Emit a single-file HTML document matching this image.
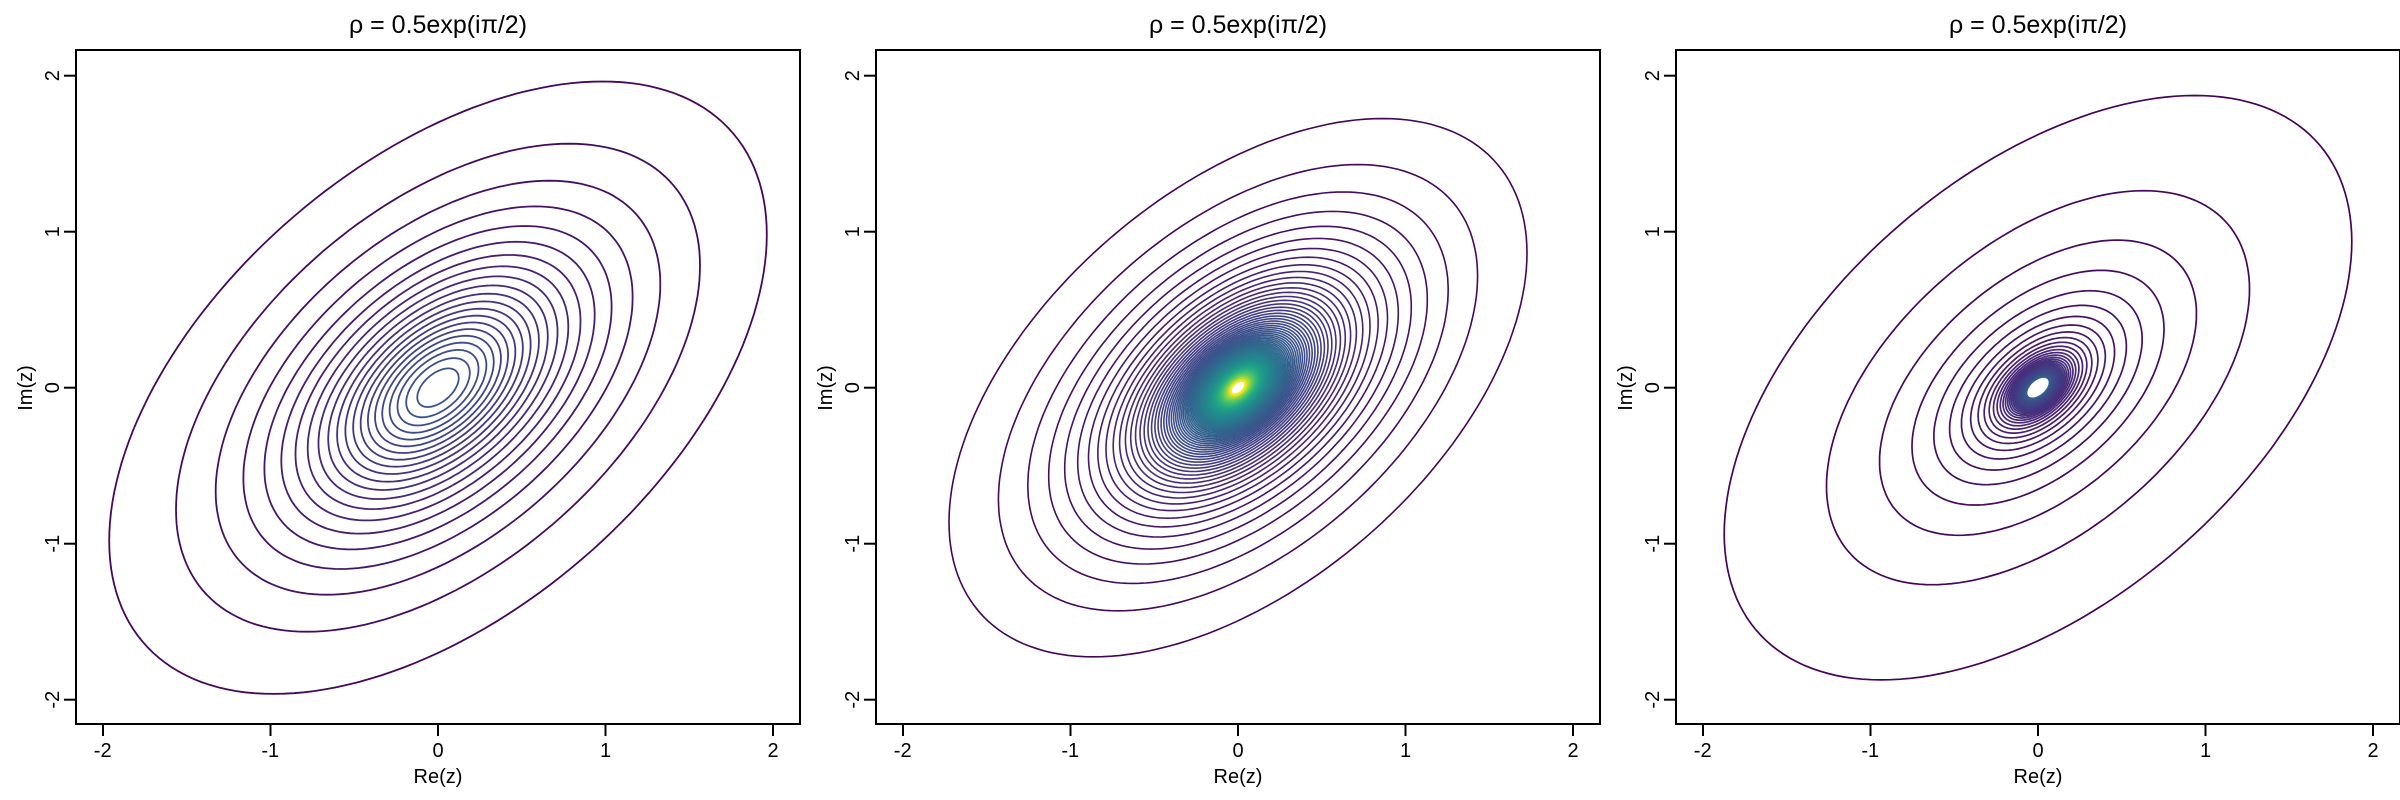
<!DOCTYPE html>
<html><head><meta charset="utf-8"><style>
html,body{margin:0;padding:0;background:#fff;}
svg{display:block;}
text{font-family:"Liberation Sans",sans-serif;fill:#000;}
</style></head><body>
<svg id="s" width="2400" height="800" viewBox="0 0 2400 800" xmlns="http://www.w3.org/2000/svg">
<defs>
<clipPath id="c0"><rect x="76" y="50" width="724" height="674"/></clipPath>
<clipPath id="c1"><rect x="876" y="50" width="724" height="674"/></clipPath>
<clipPath id="c2"><rect x="1676" y="50" width="724" height="674"/></clipPath>
</defs>
<g id="g0" clip-path="url(#c0)"></g>
<g id="g1" clip-path="url(#c1)"></g>
<g id="g2" clip-path="url(#c2)"></g>
<g font-size="25" text-anchor="middle">
<text x="438" y="33">ρ = 0.5exp(iπ/2)</text>
<text x="1238" y="33">ρ = 0.5exp(iπ/2)</text>
<text x="2038" y="33">ρ = 0.5exp(iπ/2)</text>
</g>
<g font-size="20" text-anchor="middle">
<text x="438" y="783">Re(z)</text>
<text x="1238" y="783">Re(z)</text>
<text x="2038" y="783">Re(z)</text>
<text transform="translate(32,388) rotate(-90)">Im(z)</text>
<text transform="translate(832,388) rotate(-90)">Im(z)</text>
<text transform="translate(1632,388) rotate(-90)">Im(z)</text>
</g>
<g id="axes" font-size="20" text-anchor="middle">
<text x="102.7" y="757">-2</text><text x="270.3" y="757">-1</text><text x="438" y="757">0</text><text x="605.5" y="757">1</text><text x="773" y="757">2</text>
<text transform="translate(59,75.7) rotate(-90)">2</text><text transform="translate(59,231.7) rotate(-90)">1</text><text transform="translate(59,387.7) rotate(-90)">0</text><text transform="translate(59,543.7) rotate(-90)">-1</text><text transform="translate(59,699.7) rotate(-90)">-2</text>
<text x="902.7" y="757">-2</text><text x="1070.3" y="757">-1</text><text x="1238" y="757">0</text><text x="1405.5" y="757">1</text><text x="1573" y="757">2</text>
<text transform="translate(859,75.7) rotate(-90)">2</text><text transform="translate(859,231.7) rotate(-90)">1</text><text transform="translate(859,387.7) rotate(-90)">0</text><text transform="translate(859,543.7) rotate(-90)">-1</text><text transform="translate(859,699.7) rotate(-90)">-2</text>
<text x="1702.7" y="757">-2</text><text x="1870.3" y="757">-1</text><text x="2038" y="757">0</text><text x="2205.5" y="757">1</text><text x="2373" y="757">2</text>
<text transform="translate(1659,75.7) rotate(-90)">2</text><text transform="translate(1659,231.7) rotate(-90)">1</text><text transform="translate(1659,387.7) rotate(-90)">0</text><text transform="translate(1659,543.7) rotate(-90)">-1</text><text transform="translate(1659,699.7) rotate(-90)">-2</text>
</g>
</svg>
<script>
var NS="http://www.w3.org/2000/svg",svg=document.getElementById('s');
function el(n,a,p){var e=document.createElementNS(NS,n);for(var k in a)e.setAttribute(k,a[k]);(p||svg).appendChild(e);return e;}
var V=[[68,1,84],[72,35,116],[64,67,135],[52,94,141],[41,120,142],[32,144,140],[34,167,132],[68,190,112],[121,209,81],[189,222,38],[253,231,37]];
function vir(t){t=Math.max(0,Math.min(1,t))*10;var i=Math.min(9,Math.floor(t)),f=t-i,a=V[i],b=V[i+1];
return 'rgb('+[0,1,2].map(function(j){return Math.round(a[j]+(b[j]-a[j])*f)}).join(',')+')';}
function K0(x){
 if(x<=2){var t=x*x/4;var y=(x/3.75)*(x/3.75);var I0=1+y*(3.5156229+y*(3.0899424+y*(1.2067492+y*(0.2659732+y*(0.0360768+y*0.0045813)))));
  return -Math.log(x/2)*I0+(-0.57721566+t*(0.42278420+t*(0.23069756+t*(0.03488590+t*(0.00262698+t*(0.00010750+t*0.0000074))))));}
 var z=2/x;return Math.exp(-x)/Math.sqrt(x)*(1.25331414+z*(-0.07832358+z*(0.02189568+z*(-0.01062446+z*(0.00587872+z*(-0.00251540+z*0.00053208))))));}
function invert(f,L){var lo=1e-6,hi=10;for(var i=0;i<60;i++){var m=(lo+hi)/2;if(f(m)>L)lo=m;else hi=m;}return (lo+hi)/2;}
function ell(g,off,r,col,w){var d='';for(var i=0;i<=180;i++){var t=i/180*2*Math.PI;
 var x=0.70711*r*Math.cos(t),y=r*(0.35355*Math.cos(t)+0.61237*Math.sin(t));
 var px=off+438+167.5*x,py=387.7-156*y;d+=(i?'L':'M')+px.toFixed(1)+' '+py.toFixed(1);}
 el('path',{d:d+'Z',fill:'none',stroke:col,'stroke-width':w},g);}
var g0=document.getElementById('g0');
var f0=function(r){return Math.pow(1+r*r,-1.2)};
for(var k=0;k<=20;k++){var L=0.0745+k*0.0445;ell(g0,0,invert(f0,L),vir(0.27*L),1.8);}
var g1=document.getElementById('g1');
var f1=function(r){return K0(1.3*r)};
for(var k=0;k<107;k++){var L=0.0285+k*0.025;ell(g1,800,invert(f1,L),vir(L/2.7),1.6);}
var g2=document.getElementById('g2');
var N2=38;for(var k=1;k<=N2;k++){var r=1/(0.2+0.175*k+0.0025*k*k);ell(g2,1600,r,vir(0.3*k/N2),k>25?1.4:1.7);}
[0,800,1600].forEach(function(o){
 el('rect',{x:76+o,y:50,width:724,height:674,fill:'none',stroke:'#000','stroke-width':2});
 for(var v=-2;v<=2;v++){var px=o+438+167.5*v;el('line',{x1:px,y1:724,x2:px,y2:736,stroke:'#000','stroke-width':2});
  var py=387.7-156*v;el('line',{x1:o+64,y1:py,x2:o+76,y2:py,stroke:'#000','stroke-width':2});}
});
</script>
</body></html>
